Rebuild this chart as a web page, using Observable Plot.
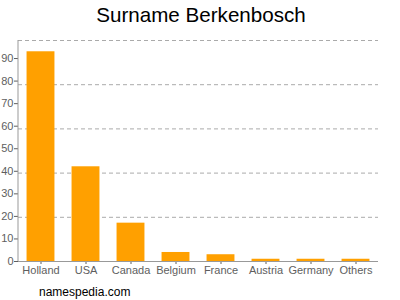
<!DOCTYPE html>
<html><head><meta charset="utf-8">
<script src="https://cdn.jsdelivr.net/npm/d3@7"></script>
<script src="https://cdn.jsdelivr.net/npm/@observablehq/plot@0.6"></script>
<style>
body{margin:0;background:#fff;font-family:"Liberation Sans",Arial,sans-serif}
#wrap{position:relative;width:400px;height:300px;overflow:hidden}
#wrap svg{position:absolute;left:0;top:0}
#title{position:absolute;left:0;top:3px;width:402px;text-align:center;font-size:20.6px;color:#000}
#caption{position:absolute;left:39px;top:285px;font-size:12px;color:#000}
</style></head><body><div id="wrap"></div>
<script>
const countries = ["Holland","USA","Canada","Belgium","France","Austria","Germany","Others"];
const counts = [93,42,17,4,3,1,1,1];
const yTicks = [0,10,20,30,40,50,60,70,80,90];
const gridLines = [19.6,39.2,58.8,78.4,98];
const yMax = 98;
const titleText = "Surname Berkenbosch";
const captionText = "namespedia.com";

const data = countries.map((c,i)=>({country:c,count:counts[i]}));
const chart = Plot.plot({
  width:400,height:300,marginTop:40,marginBottom:39,marginLeft:18,marginRight:22,
  style:{fontFamily:'"Liberation Sans",Arial,sans-serif',fontSize:"11px",color:"#5e5e5e",background:"transparent"},
  x:{domain:countries,paddingInner:0.38,paddingOuter:0.19,round:false,label:null,tickSize:3,tickPadding:1.5},
  y:{domain:[0,yMax],ticks:yTicks,label:null,tickSize:4,tickPadding:1},
  marks:[
    Plot.ruleY(gridLines,{stroke:"#aaa",strokeDasharray:"4,3"}),
    Plot.barY(data,{x:"country",y:"count",fill:"#ffa000"}),
    Plot.ruleY([0],{stroke:"#999"})
  ]
});
const wrap = document.getElementById("wrap");
wrap.appendChild(chart);
const xr = chart.scale("x").range, yr = chart.scale("y").range;
d3.select(chart).append("line")
  .attr("x1",xr[0]).attr("x2",xr[0]).attr("y1",yr[0]).attr("y2",yr[1])
  .attr("stroke","#999");
const t = document.createElement("div"); t.id="title"; t.textContent=titleText; wrap.appendChild(t);
const c = document.createElement("div"); c.id="caption"; c.textContent=captionText; wrap.appendChild(c);
</script></body></html>
